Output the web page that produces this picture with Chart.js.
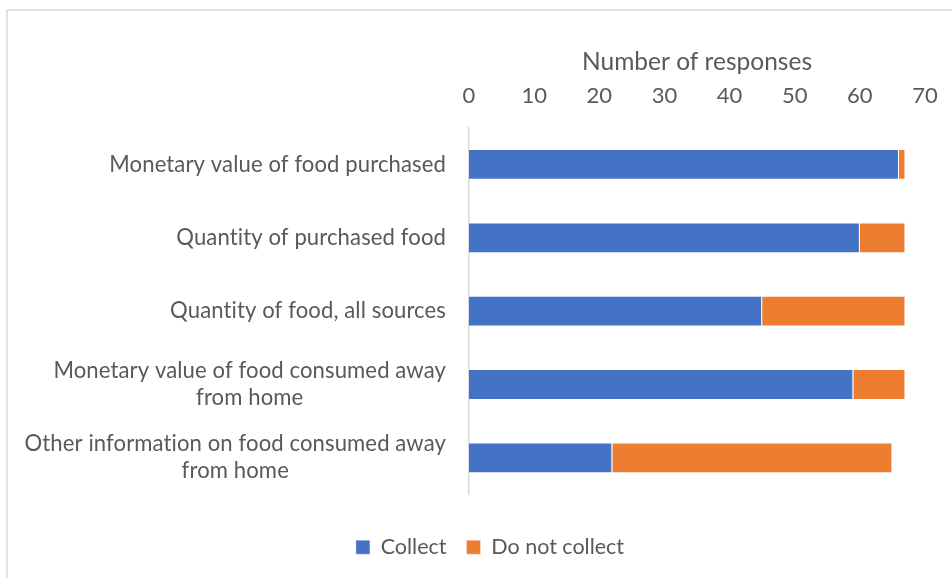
<!DOCTYPE html>
<html>
<head>
<meta charset="utf-8">
<script src="https://cdn.jsdelivr.net/npm/chart.js@4/dist/chart.umd.min.js"></script>
<style>
  html, body { margin: 0; padding: 0; background: #ffffff; }
  #wrap { width: 952px; height: 578px; position: relative; }
</style>
</head>
<body>
<div id="wrap"><canvas id="chart" width="952" height="578"></canvas></div>
<script>
// Survey items (multi-line labels are split into lines)
const categories = [
  ['Monetary value of food purchased'],
  ['Quantity of purchased food'],
  ['Quantity of food, all sources'],
  ['Monetary value of food consumed away', 'from home'],
  ['Other information on food consumed away', 'from home']
];
const collect = [66, 60, 45, 59, 22];
const doNotCollect = [1, 7, 22, 8, 43];
const xTicks = [0, 10, 20, 30, 40, 50, 60, 70];

const FONT = 'Lato, "Open Sans", sans-serif';
const TEXT = '#595959';

// Light frame around the chart area
const framePlugin = {
  id: 'frame',
  beforeDraw(chart) {
    const ctx = chart.ctx;
    ctx.save();
    ctx.strokeStyle = '#d9d9d9';
    ctx.lineWidth = 1.5;
    ctx.beginPath();
    ctx.moveTo(7, 578);
    ctx.lineTo(7, 10);
    ctx.lineTo(952, 10);
    ctx.stroke();
    ctx.restore();
  }
};

// Category labels: right-aligned block, each block's lines centred on each other
const categoryLabels = {
  id: 'categoryLabels',
  afterDraw(chart) {
    const ctx = chart.ctx;
    const y = chart.scales.y;
    const rightEdge = chart.chartArea.left - 23;
    const lineH = 27;
    ctx.save();
    ctx.font = '22.1px ' + FONT;
    if ('letterSpacing' in ctx) ctx.letterSpacing = '0.1px'; // keeps "ti" unligated
    ctx.fillStyle = TEXT;
    ctx.textAlign = 'center';
    ctx.textBaseline = 'middle';
    categories.forEach((lines, i) => {
      const cy = y.getPixelForValue(i);
      const w = Math.max(...lines.map(l => ctx.measureText(l).width));
      const cx = rightEdge - w / 2;
      const y0 = cy - (lines.length - 1) * lineH / 2;
      lines.forEach((l, k) => ctx.fillText(l, cx, y0 + k * lineH));
    });
    ctx.restore();
  }
};

new Chart(document.getElementById('chart'), {
  type: 'bar',
  data: {
    labels: categories.map(c => c.join(' ')),
    datasets: [
      {
        label: 'Collect',
        data: collect,
        backgroundColor: '#4472C4',
        borderColor: 'rgba(255,255,255,0.35)',
        borderWidth: 1,
        barPercentage: 0.42,
        categoryPercentage: 1
      },
      {
        label: 'Do not collect',
        data: doNotCollect,
        backgroundColor: '#ED7D31',
        borderColor: 'rgba(255,255,255,0.35)',
        borderWidth: 1,
        barPercentage: 0.42,
        categoryPercentage: 1
      }
    ]
  },
  options: {
    indexAxis: 'y',
    responsive: false,
    animation: false,
    layout: { padding: { left: 28, right: 0, top: 47, bottom: 10 } },
    scales: {
      x: {
        position: 'top',
        stacked: true,
        min: 0,
        max: 70,
        afterBuildTicks(scale) { scale.ticks = xTicks.map(v => ({ value: v })); },
        afterFit(scale) { scale.paddingLeft = 0; scale.paddingRight = 0; },
        ticks: { color: TEXT, font: { family: FONT, size: 22 }, padding: 19 },
        grid: { display: false, drawTicks: false },
        border: { display: false },
        title: {
          display: true,
          text: 'Number of responses',
          color: TEXT,
          font: { family: FONT, size: 24.5 },
          padding: { top: 0, bottom: -13 }
        }
      },
      xPad: {
        type: 'linear',
        position: 'bottom',
        ticks: { display: false },
        grid: { display: false, drawTicks: false },
        border: { display: false },
        afterFit(scale) { scale.height = 22; scale.paddingLeft = 0; scale.paddingRight = 0; }
      },
      y: {
        stacked: true,
        ticks: { display: false },
        grid: { display: false },
        border: { display: true, color: '#d9d9d9', width: 1.5 },
        afterFit(scale) { scale.width = 441; }
      },
      yPad: {
        type: 'category',
        position: 'right',
        labels: ['a'],
        ticks: { display: false },
        grid: { display: false },
        border: { display: false },
        afterFit(scale) { scale.width = 27; }
      }
    },
    plugins: {
      legend: {
        position: 'bottom',
        labels: {
          color: TEXT,
          font: { family: FONT, size: 21.5 },
          boxWidth: 14,
          boxHeight: 14,
          padding: 20
        }
      },
      tooltip: { enabled: false }
    }
  },
  plugins: [framePlugin, categoryLabels]
});
</script>
</body>
</html>
